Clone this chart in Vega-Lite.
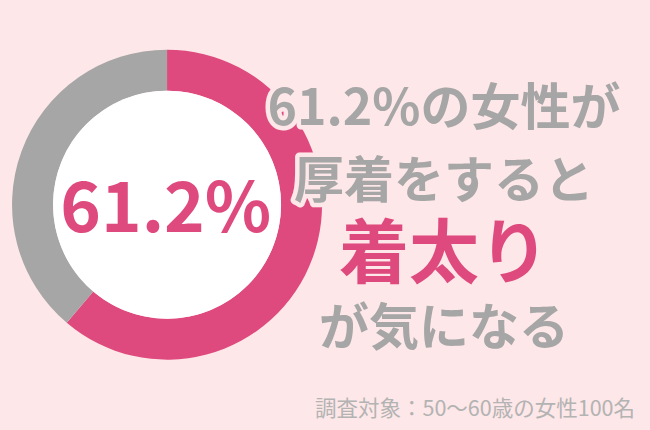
{
  "$schema": "https://vega.github.io/schema/vega-lite/v6.json",
  "width": 650,
  "height": 430,
  "padding": 0,
  "autosize": {"type": "fit", "contains": "padding"},
  "background": "#fde7e8",
  "config": {"view": {"stroke": null}, "font": "Noto Sans CJK JP"},
  "datasets": {
    "survey": [
      {"answer": "着太りが気になる", "pct": 61.2, "order": 1},
      {"answer": "その他", "pct": 38.8, "order": 2}
    ],
    "lines": [
      {"line": 1, "text": "61.2%の女性が", "emph": "normal"},
      {"line": 2, "text": "厚着をすると", "emph": "normal"},
      {"line": 3, "text": "着太り", "emph": "emph"},
      {"line": 4, "text": "が気になる", "emph": "normal"}
    ],
    "note": [{"text": "調査対象：50〜60歳の女性100名"}]
  },
  "resolve": {"scale": {"color": "independent", "size": "independent", "y": "shared"}},
  "layer": [
    {
      "data": {"name": "survey"},
      "mark": {"type": "arc", "innerRadius": 114, "outerRadius": 155, "x": {"expr": "width*0.257"}, "y": {"expr": "height*0.476"}},
      "encoding": {
        "theta": {"field": "pct", "type": "quantitative", "stack": true},
        "order": {"field": "order", "type": "quantitative"},
        "color": {"field": "answer", "type": "nominal", "legend": null,
          "scale": {"domain": ["着太りが気になる", "その他"], "range": ["#df4a7e", "#a6a6a6"]}}
      }
    },
    {
      "data": {"name": "survey"},
      "transform": [{"filter": "datum.order == 1"}],
      "mark": {"type": "arc", "innerRadius": 0, "outerRadius": 114, "fill": "#ffffff", "theta": 0, "theta2": 6.2832, "x": {"expr": "width*0.257"}, "y": {"expr": "height*0.476"}},
      "encoding": {}
    },
    {
      "data": {"name": "survey"},
      "transform": [{"filter": "datum.order == 1"}, {"calculate": "format(datum.pct, '.1f') + '%'", "as": "label"}],
      "mark": {"type": "text", "font": "Noto Sans CJK JP", "fontWeight": "bold", "fontSize": 69, "color": "#df4a7e", "align": "center", "baseline": "middle", "x": {"expr": "width*0.255"}, "y": {"expr": "height*0.49"}},
      "encoding": {"text": {"field": "label"}}
    },
    {
      "data": {"name": "lines"},
      "mark": {"type": "text", "font": "Noto Sans CJK JP", "fontWeight": "bold", "align": "center", "baseline": "middle", "stroke": "#fde7e8", "strokeWidth": 9, "strokeJoin": "round", "x": {"expr": "width*0.683"}},
      "encoding": {
        "text": {"field": "text"},
        "y": {"field": "line", "type": "quantitative", "axis": null, "scale": {"domain": [1, 4], "range": [110, 330]}},
        "size": {"field": "emph", "type": "nominal", "legend": null, "scale": {"domain": ["normal", "emph"], "range": [50, 70]}},
        "color": {"field": "emph", "type": "nominal", "legend": null, "scale": {"domain": ["normal", "emph"], "range": ["#a6a6a6", "#df4a7e"]}}
      }
    },
    {
      "data": {"name": "lines"},
      "mark": {"type": "text", "font": "Noto Sans CJK JP", "fontWeight": "bold", "align": "center", "baseline": "middle", "x": {"expr": "width*0.683"}},
      "encoding": {
        "text": {"field": "text"},
        "y": {"field": "line", "type": "quantitative", "axis": null, "scale": {"domain": [1, 4], "range": [110, 330]}},
        "size": {"field": "emph", "type": "nominal", "legend": null, "scale": {"domain": ["normal", "emph"], "range": [50, 70]}},
        "color": {"field": "emph", "type": "nominal", "legend": null, "scale": {"domain": ["normal", "emph"], "range": ["#a6a6a6", "#df4a7e"]}}
      }
    },
    {
      "data": {"name": "note"},
      "mark": {"type": "text", "font": "Noto Sans CJK JP", "fontSize": 21.5, "color": "#b3b3b3", "align": "right", "baseline": "middle", "x": {"expr": "width-15"}, "y": {"expr": "height-20"}},
      "encoding": {"text": {"field": "text"}}
    }
  ]
}
